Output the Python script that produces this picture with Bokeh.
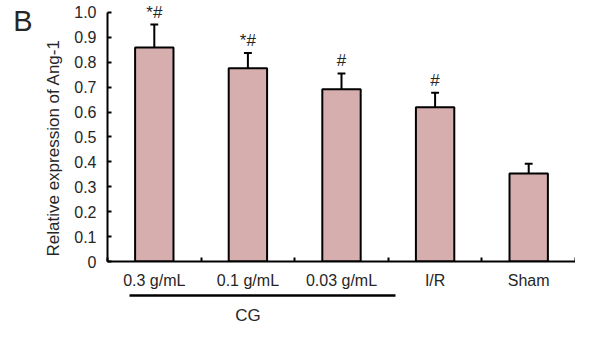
import numpy as np
from bokeh.plotting import figure
from bokeh.models import ColumnDataSource, FixedTicker, LinearAxis, Range1d, Title
from bokeh.embed import file_html
from bokeh.resources import INLINE
from bokeh.core.properties import value

# ---- data ----
categories = ["0.3 g/mL", "0.1 g/mL", "0.03 g/mL", "I/R", "Sham"]
means = [0.859, 0.776, 0.691, 0.619, 0.353]
errors = [0.092, 0.061, 0.064, 0.058, 0.039]
marks = ["*#", "*#", "#", "#", ""]
y_ticks = [0.0, 0.1, 0.2, 0.3, 0.4, 0.5, 0.6, 0.7, 0.8, 0.9, 1.0]
y_tick_labels = ["0", "0.1", "0.2", "0.3", "0.4", "0.5", "0.6", "0.7", "0.8", "0.9", "1.0"]
group_label = "CG"
group_members = ["0.3 g/mL", "0.1 g/mL", "0.03 g/mL"]
y_label = "Relative expression of Ang-1"
panel_letter = "B"

FONT = "Liberation Sans"
TXT = "#262626"
BAR = "#D7AEAE"

n = len(categories)
xc = np.arange(n) + 0.5
tops = np.array(means) + np.array(errors)

src = ColumnDataSource(dict(x=xc, m=means, top=tops, marks=marks,
                            cl=xc - 0.042, cr=xc + 0.042))

p = figure(width=575, height=327, x_range=Range1d(0, n), y_range=Range1d(0, 1.0476),
           output_backend="svg", toolbar_location=None,
           min_border_left=107, min_border_right=0, min_border_top=0, min_border_bottom=63)
p.outline_line_color = None
p.xgrid.visible = False
p.ygrid.visible = False

# error bars
p.segment(x0="x", y0="m", x1="x", y1="top", source=src, line_color="black", line_width=2)
p.segment(x0="cl", y0="top", x1="cr", y1="top", source=src, line_color="black", line_width=2)
# bars
p.vbar(x="x", top="m", bottom=0, width=0.41, source=src, fill_color=BAR,
       line_color="black", line_width=2)
# significance marks
p.text(x="x", y="top", text="marks", source=src, text_align="center",
       text_baseline="bottom", y_offset=-3, text_font=value(FONT),
       text_font_size="17px", text_color=TXT)

# y axis
ya = p.yaxis[0]
ya.ticker = FixedTicker(ticks=y_ticks)
ya.major_label_overrides = {t: l for t, l in zip(y_ticks, y_tick_labels)}
ya.bounds = (0, 1.0)
ya.major_tick_in = 4
ya.major_tick_out = 0
ya.minor_tick_in = 0
ya.minor_tick_out = 0
ya.axis_line_width = 2
ya.major_tick_line_width = 2
ya.major_label_standoff = 11
ya.major_label_text_font = FONT
ya.major_label_text_font_size = "16px"
ya.major_label_text_color = TXT

# x axis (category labels, boundary ticks)
xa = p.xaxis[0]
xa.ticker = FixedTicker(ticks=list(xc), minor_ticks=list(range(n + 1)))
xa.major_label_overrides = {float(x): c for x, c in zip(xc, categories)}
xa.major_tick_in = 0
xa.major_tick_out = 0
xa.minor_tick_in = 4
xa.minor_tick_out = 0
xa.minor_tick_line_width = 2
xa.axis_line_width = 2
xa.major_label_standoff = 10
xa.major_label_text_font = FONT
xa.major_label_text_font_size = "16px"
xa.major_label_text_color = TXT
xa.axis_label = " "
xa.axis_label_standoff = 0
xa.axis_label_text_font_size = "1px"

# group axis (CG)
gi = [categories.index(g) for g in group_members]
g_center = float(np.mean([xc[i] for i in gi]))
ga = LinearAxis(ticker=FixedTicker(ticks=[g_center]),
                major_label_overrides={g_center: group_label})
ga.bounds = (xc[gi[0]] - 0.27, xc[gi[-1]] + 0.58)
ga.major_tick_in = 0
ga.major_tick_out = 0
ga.minor_tick_in = 0
ga.minor_tick_out = 0
ga.axis_line_width = 2.5
ga.major_label_standoff = 10
ga.major_label_text_font = FONT
ga.major_label_text_font_size = "17px"
ga.major_label_text_color = TXT
p.add_layout(ga, "below")

# y label as a side title
p.add_layout(Title(text=y_label, align="left", offset=5, standoff=18,
                   text_font=FONT, text_font_size="17px", text_font_style="normal",
                   text_color=TXT), "left")

# panel letter, as the only label of an outer left axis
la = LinearAxis(ticker=FixedTicker(ticks=[1.0]), major_label_overrides={1.0: panel_letter})
la.axis_line_color = None
la.major_tick_in = 0
la.major_tick_out = 0
la.minor_tick_in = 0
la.minor_tick_out = 0
la.major_label_standoff = 0
la.major_label_text_font = FONT
la.major_label_text_font_size = "29px"
la.major_label_text_color = TXT
p.add_layout(la, "left")

open("out.html", "w").write(file_html(p, INLINE))
